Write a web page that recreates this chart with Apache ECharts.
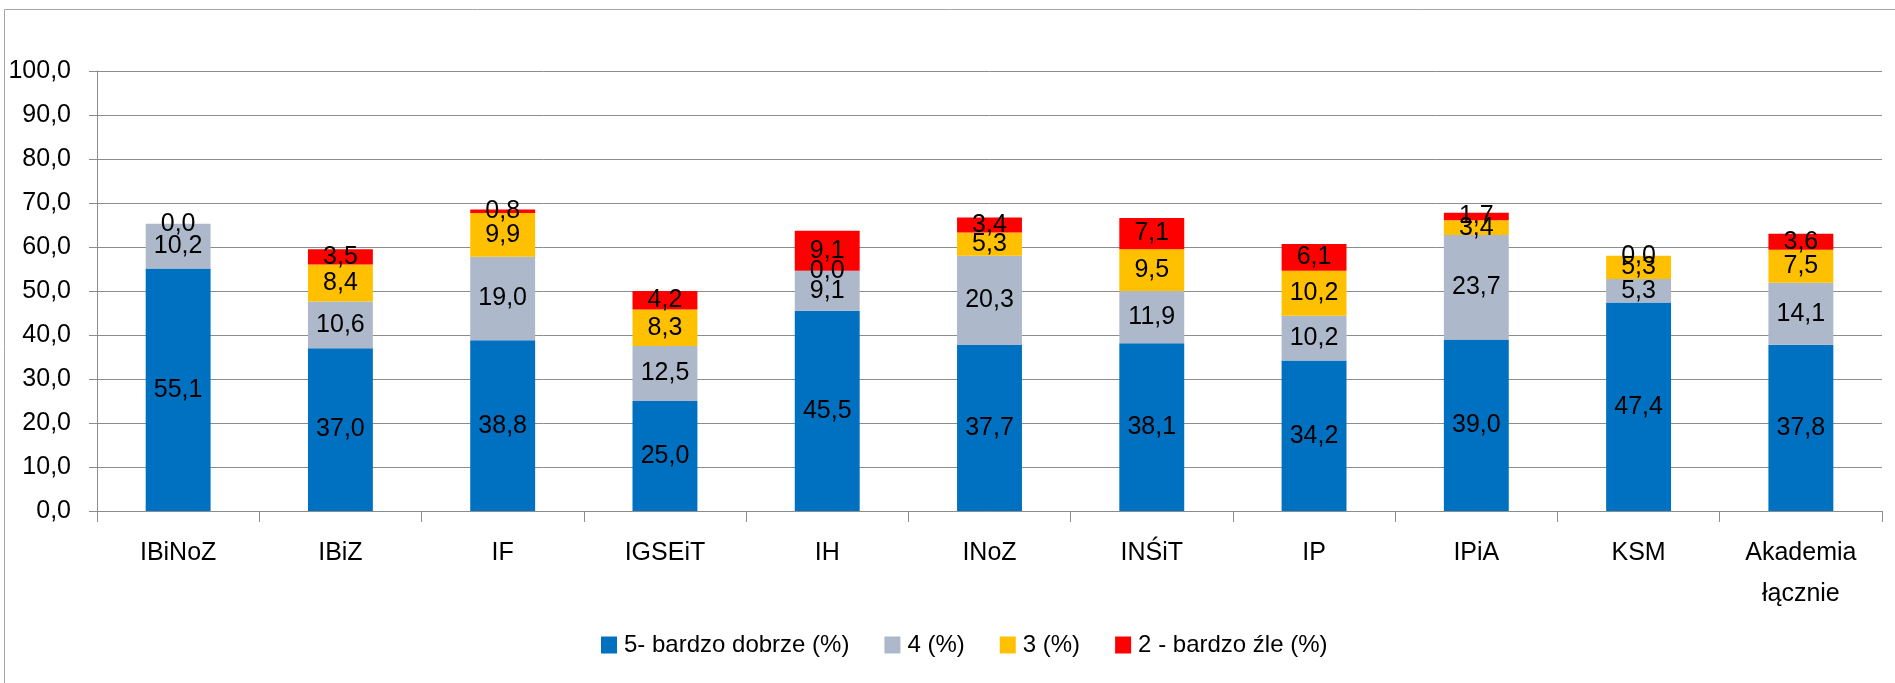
<!DOCTYPE html>
<html>
<head>
<meta charset="utf-8">
<script src="https://cdn.jsdelivr.net/npm/echarts@6/dist/echarts.min.js"></script>
<style>
    html, body { margin: 0; padding: 0; background: #fff; }
    #chart { width: 1895px; height: 683px; }
</style>
</head>
<body>
<div id="chart"></div>
<script>
// kategorie i wartości
var categories = ['IBiNoZ', 'IBiZ', 'IF', 'IGSEiT', 'IH', 'INoZ', 'INŚiT', 'IP', 'IPiA', 'KSM', 'Akademia\nłącznie'];
var seriesNames = ['5- bardzo dobrze (%)', '4 (%)', '3 (%)', '2 - bardzo źle (%)'];
var ocena5 = [55.1, 37.0, 38.8, 25.0, 45.5, 37.7, 38.1, 34.2, 39.0, 47.4, 37.8];
var ocena4 = [10.2, 10.6, 19.0, 12.5, 9.1, 20.3, 11.9, 10.2, 23.7, 5.3, 14.1];
var ocena3 = [null, 8.4, 9.9, 8.3, 0.0, 5.3, 9.5, 10.2, 3.4, 5.3, 7.5];
var ocena2 = [0.0, 3.5, 0.8, 4.2, 9.1, 3.4, 7.1, 6.1, 1.7, 0.0, 3.6];
var yTicks = { min: 0, max: 100, interval: 10 };
var colors = ['#0070C0', '#ADB9CA', '#FFC000', '#FF0000'];

var fontName = 'Liberation Sans';
var fontSize = 25;

function fmt(v) {
    return Number(v).toFixed(1).replace('.', ',');
}

function makeSeries(name, data, color) {
    return {
        name: name,
        type: 'bar',
        stack: 'oceny',
        barWidth: '40%',
        data: data,
        itemStyle: { color: color },
        label: {
            show: true,
            position: 'inside',
            color: '#000',
            fontFamily: fontName,
            fontSize: fontSize,
            formatter: function (p) {
                if (p.value === null || p.value === undefined) return '';
                return fmt(p.value);
            }
        }
    };
}

var chart = echarts.init(document.getElementById('chart'));
var option = {
    animation: false,
    backgroundColor: '#fff',
    color: colors,
    graphic: [{
        type: 'rect',
        shape: { x: 4.5, y: 9.5, width: 1900, height: 700 },
        style: { fill: 'none', stroke: '#a6a6a6', lineWidth: 1 },
        silent: true
    }],
    grid: {
        left: 97,
        right: 13,
        top: 71,
        bottom: 172,
        outerBoundsMode: 'none'
    },
    legend: {
        data: seriesNames,
        left: 596,
        top: 627,
        icon: 'rect',
        itemWidth: 16,
        itemHeight: 17,
        itemGap: 35,
        textStyle: {
            fontFamily: fontName,
            fontSize: 24,
            lineHeight: 26,
            color: '#000',
            padding: [0, 0, 0, 2]
        }
    },
    xAxis: {
        type: 'category',
        data: categories,
        axisLine: { lineStyle: { color: '#8c8c8c', width: 1 } },
        axisTick: { show: true, length: 11, lineStyle: { color: '#8c8c8c' } },
        axisLabel: {
            margin: 22,
            color: '#000',
            fontFamily: fontName,
            fontSize: fontSize,
            lineHeight: 41,
            interval: 0
        }
    },
    yAxis: {
        type: 'value',
        min: yTicks.min,
        max: yTicks.max,
        interval: yTicks.interval,
        axisLine: { show: true, lineStyle: { color: '#8c8c8c', width: 1 } },
        axisTick: { show: true, inside: false, length: 8, lineStyle: { color: '#8c8c8c' } },
        splitLine: { show: true, lineStyle: { color: '#8c8c8c', width: 1 } },
        axisLabel: {
            margin: 26,
            color: '#000',
            fontFamily: fontName,
            fontSize: fontSize,
            formatter: function (v) { return fmt(v); }
        }
    },
    series: [
        makeSeries(seriesNames[0], ocena5, colors[0]),
        makeSeries(seriesNames[1], ocena4, colors[1]),
        makeSeries(seriesNames[2], ocena3, colors[2]),
        makeSeries(seriesNames[3], ocena2, colors[3])
    ]
};
chart.setOption(option);
</script>
</body>
</html>
